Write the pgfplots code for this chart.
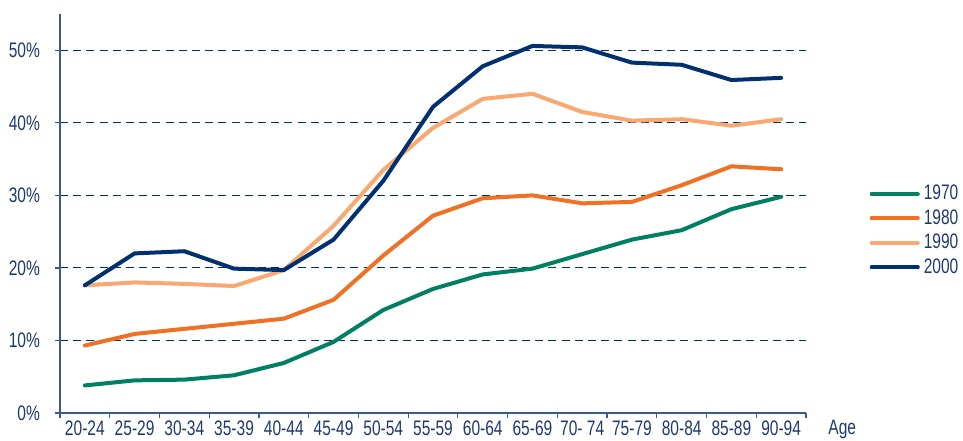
\documentclass[border=0pt]{standalone}
\usepackage{fontspec}
\setmainfont{Liberation Sans}[FakeStretch=0.74]
\usepackage{pgfplots}
\pgfplotsset{compat=1.18}
\definecolor{c70}{RGB}{0,128,96}
\definecolor{c80}{RGB}{240,112,36}
\definecolor{c90}{RGB}{248,168,112}
\definecolor{c00}{RGB}{0,48,112}
\definecolor{txt}{RGB}{30,56,112}
\definecolor{axc}{RGB}{60,90,140}
\begin{document}
\begin{tikzpicture}
\useasboundingbox (-30pt,-13.5pt) rectangle (451.5pt,206.5pt);
\begin{axis}[
  at={(0,0)}, anchor=south west,
  scale only axis, width=373pt, height=199.5pt,
  xmin=-0.5, xmax=14.5, ymin=0, ymax=55,
  axis x line*=bottom, axis y line*=left,
  axis line style={axc, line width=0.6pt, -},
  xtick={0,...,14},
  xticklabels={20-24,25-29,30-34,35-39,40-44,45-49,50-54,55-59,60-64,65-69,70- 74,75-79,80-84,85-89,90-94},
  minor xtick={-0.5,0.5,...,14.5},
  major x tick style={draw=none},
  minor tick length=2.5pt,
  tick align=outside,
  ytick={0,10,20,30,40,50},
  yticklabels={0\%,10\%,20\%,30\%,40\%,50\%},
  major tick length=2.5pt,
  tick style={axc, line width=0.6pt},
  ymajorgrids,
  grid style={c00, line width=0.55pt, dash pattern=on 4pt off 2.6pt},
  ticklabel style={font=\fontsize{10.5}{11}\selectfont, text=txt},
  xticklabel style={yshift=2pt},
  yticklabel style={xshift=-4pt},
  xlabel={Age},
  xlabel style={at={(axis description cs:1,0)}, anchor=north west, xshift=11pt, yshift=-3.5pt, font=\fontsize{10.5}{11}\selectfont, text=txt, inner sep=0pt},
  legend style={draw=none, fill=none, at={(rel axis cs:1.085,0.457)}, anchor=west, font=\fontsize{10.5}{11}\selectfont, text=txt, row sep=-0.6pt, inner sep=0pt},
  legend cell align=left,
  legend image code/.code={\draw[#1, line width=2pt, line cap=round] (0pt,0pt) -- (19pt,0pt); \path (0pt,0pt) -- (23pt,0pt);},
  every axis plot/.append style={line width=2pt, line join=round, line cap=round},
]
\addplot[c70] coordinates {(0,3.8)(1,4.5)(2,4.6)(3,5.2)(4,6.9)(5,9.8)(6,14.2)(7,17.1)(8,19.1)(9,19.9)(10,21.9)(11,23.9)(12,25.2)(13,28.1)(14,29.8)};
\addlegendentry{1970}
\addplot[c80] coordinates {(0,9.3)(1,10.9)(2,11.6)(3,12.3)(4,13.0)(5,15.6)(6,21.7)(7,27.2)(8,29.6)(9,30.0)(10,28.9)(11,29.1)(12,31.4)(13,34.0)(14,33.6)};
\addlegendentry{1980}
\addplot[c90] coordinates {(0,17.6)(1,18.0)(2,17.8)(3,17.5)(4,19.7)(5,25.8)(6,33.5)(7,39.3)(8,43.3)(9,44.0)(10,41.5)(11,40.3)(12,40.5)(13,39.6)(14,40.5)};
\addlegendentry{1990}
\addplot[c00] coordinates {(0,17.6)(1,22.0)(2,22.3)(3,19.9)(4,19.7)(5,23.9)(6,32.0)(7,42.2)(8,47.8)(9,50.6)(10,50.4)(11,48.3)(12,48.0)(13,45.9)(14,46.2)};
\addlegendentry{2000}
\end{axis}
\end{tikzpicture}
\end{document}
